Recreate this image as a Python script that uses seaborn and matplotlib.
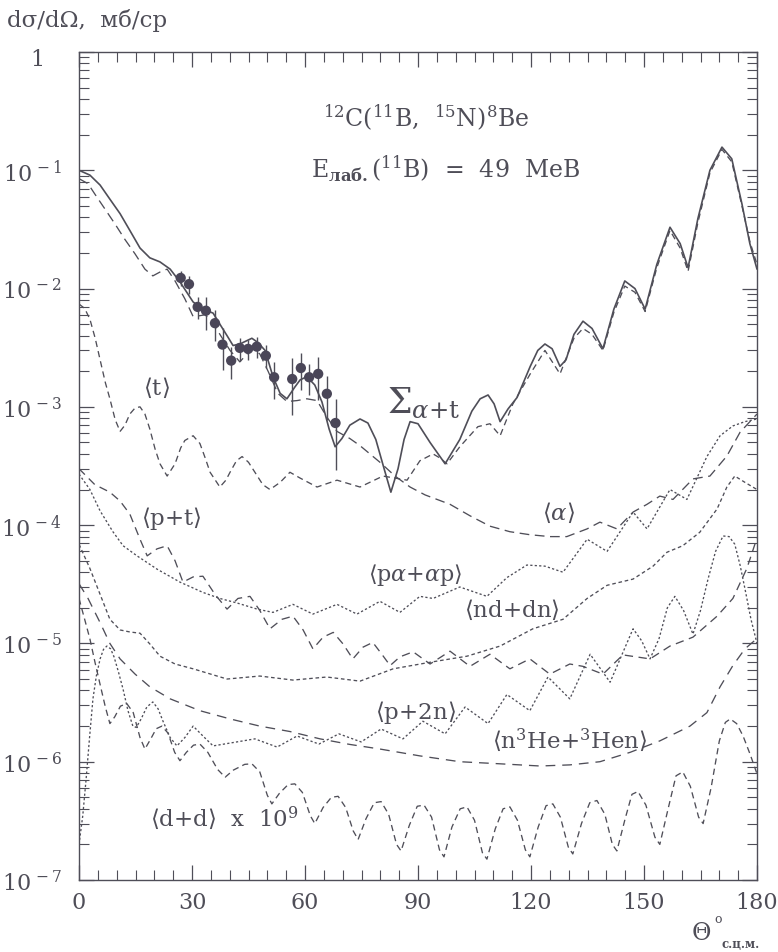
import numpy as np
import matplotlib
matplotlib.use("Agg")
import matplotlib.pyplot as plt
from matplotlib.ticker import LogLocator, MultipleLocator, FixedLocator, FixedFormatter, NullFormatter
import seaborn as sns

# ---- angular distributions, theta in degrees (c.m.), cross sections in mb/sr ----
sum_theta = [0, 2.9, 5.6, 8.2, 10.9, 13.5, 16.2, 18.8, 21.5, 24.2, 26.8, 30.3, 33.0, 35.6, 37.4,
             39.3, 40.9, 42.7, 45.9, 47.5, 49.4, 51.5, 53.4, 55.2, 57.3, 58.7, 60.5, 62.6, 64.5, 66.4,
             68.0, 69.8, 71.9, 74.6, 76.7, 78.8, 81.0, 82.8, 84.7, 86.3, 87.9, 90.0, 93.2, 97.2, 101.1,
             104.3, 106.5, 108.6, 110.2, 111.8, 113.9, 116.3, 119.8, 121.8, 123.7, 125.6, 127.7, 129.3,
             131.4, 133.8, 136.2, 139.1, 142.0, 144.9, 147.6, 150.3, 153.4, 156.9, 159.6, 161.7, 164.3,
             167.5, 170.7, 173.3, 176.0, 178.1, 180]
sum_xs = [0.1, 0.091, 0.075, 0.057, 0.043, 0.031, 0.022, 0.0182, 0.0168, 0.0146, 0.0114, 7.7e-3,
          6.7e-3, 6.2e-3, 5.0e-3, 4.0e-3, 3.3e-3, 3.4e-3, 3.8e-3, 3.5e-3, 3.0e-3, 1.8e-3, 1.3e-3,
          1.17e-3, 1.47e-3, 1.69e-3, 1.8e-3, 1.53e-3, 1.1e-3, 6.5e-4, 4.6e-4, 5.4e-4, 7.0e-4, 7.9e-4,
          7.3e-4, 5.3e-4, 3.0e-4, 1.9e-4, 3.0e-4, 5.3e-4, 7.5e-4, 7.2e-4, 5.0e-4, 3.3e-4, 5.3e-4,
          9.2e-4, 1.17e-3, 1.26e-3, 1.06e-3, 7.5e-4, 9.6e-4, 1.2e-3, 2.2e-3, 3.0e-3, 3.4e-3, 3.1e-3,
          2.2e-3, 2.5e-3, 4.1e-3, 5.3e-3, 4.6e-3, 3.1e-3, 6.7e-3, 1.16e-2, 1.0e-2, 6.7e-3, 1.6e-2,
          3.3e-2, 2.4e-2, 1.5e-2, 3.9e-2, 0.10, 0.157, 0.125, 0.052, 0.024, 0.0146]

alpha_theta = [0, 2.4, 4.2, 6.9, 9.6, 12.2, 14.9, 17.5, 19.6, 21.5, 23.4, 25.5, 28.1, 30.3, 32.1,
               33.4, 35.6, 37.4, 40.1, 42.7, 44.6, 46.2, 48.0, 50.2, 52.8, 55.2, 57.9, 60.5, 63.2,
               65.8, 68.5, 71.9, 74.6, 79.9, 83.9, 87.9, 91.9, 98.5, 103.8, 109.1, 114.4, 119.7,
               125.0, 129.5, 134.9, 138.3, 142.8, 147.1, 150.8, 154.2, 157.7, 163.0, 167.5, 172.0,
               175.5, 180]
alpha_xs = [0.085, 0.077, 0.063, 0.047, 0.035, 0.026, 0.0196, 0.0146, 0.0128, 0.0138, 0.0146,
            0.0116, 8.2e-3, 5.8e-3, 5.9e-3, 6.0e-3, 5.3e-3, 4.1e-3, 3.0e-3, 2.4e-3, 2.8e-3, 3.1e-3,
            2.8e-3, 2.0e-3, 1.3e-3, 1.11e-3, 1.13e-3, 1.17e-3, 1.13e-3, 8.2e-4, 6.2e-4, 5.4e-4,
            4.7e-4, 3.4e-4, 2.6e-4, 2.1e-4, 1.8e-4, 1.5e-4, 1.2e-4, 9.8e-5, 8.8e-5, 8.3e-5, 8.0e-5,
            8.0e-5, 9.3e-5, 1.06e-4, 9.3e-5, 1.29e-4, 1.5e-4, 1.76e-4, 1.65e-4, 2.46e-4, 2.6e-4,
            3.84e-4, 6.1e-4, 8.7e-4]

t_theta = [0, 1.5, 2.9, 4.3, 5.6, 7.0, 8.2, 9.6, 10.9, 12.2, 13.5, 14.9, 16.2, 17.5, 18.8, 20.2,
           21.5, 23.4, 25.5, 27.0, 28.1, 30.3, 32.1, 33.5, 34.8, 37.4, 39.0, 40.1, 41.8, 43.3, 45.0,
           46.7, 48.8, 50.7, 53.4, 56.0, 58.7, 63.2, 68.5, 74.6, 80.7, 87.1, 90.5, 94.0, 95.8, 97.7,
           101.1, 105.9, 109.1, 111.8, 115.2, 119.8, 123.7, 127.7, 131.4, 133.8, 136.2, 139.1,
           142.0, 144.9, 147.6, 150.3, 153.4, 156.9, 159.6, 161.7, 164.3, 167.5, 170.7, 173.3,
           176.0, 178.1, 180]
t_xs = [7.4e-3, 6.8e-3, 5.5e-3, 3.8e-3, 2.5e-3, 1.6e-3, 1.17e-3, 7.8e-4, 6.2e-4, 7.0e-4, 8.7e-4,
        9.8e-4, 1.0e-3, 8.7e-4, 6.5e-4, 4.4e-4, 3.3e-4, 2.6e-4, 3.3e-4, 4.5e-4, 5.2e-4, 5.7e-4,
        4.9e-4, 3.7e-4, 2.8e-4, 2.1e-4, 2.4e-4, 2.8e-4, 3.5e-4, 3.8e-4, 3.4e-4, 2.8e-4, 2.2e-4,
        2.0e-4, 2.3e-4, 2.8e-4, 2.5e-4, 2.1e-4, 2.4e-4, 2.1e-4, 2.6e-4, 2.4e-4, 3.5e-4, 4.0e-4,
        3.7e-4, 3.3e-4, 4.6e-4, 6.8e-4, 7.2e-4, 5.7e-4, 1.06e-3, 1.9e-3, 3.0e-3, 1.9e-3, 3.8e-3,
        4.6e-3, 4.1e-3, 3.0e-3, 6.3e-3, 1.05e-2, 9.3e-3, 6.4e-3, 1.5e-2, 3.1e-2, 2.2e-2, 1.4e-2,
        3.6e-2, 0.095, 0.15, 0.118, 0.05, 0.025, 0.016]

pt_theta = [0, 4.2, 8.2, 10.9, 13.5, 16.2, 18.1, 20.7, 23.4, 25.5, 27.6, 30.3, 32.9, 36.1, 39.3,
            42.2, 45.4, 48.0, 50.7, 53.9, 56.8, 59.5, 62.1, 64.8, 67.5, 70.1, 72.7, 75.4, 78.0, 80.4,
            82.6, 85.2, 88.7, 93.2, 98.5, 103.8, 109.1, 114.4, 119.7, 125.0, 130.3, 133.8, 139.1,
            144.4, 151.6, 156.9, 163.0, 169.4, 173.6, 177.3, 180]
pt_xs = [3.0e-4, 2.2e-4, 1.9e-4, 1.6e-4, 1.24e-4, 7.6e-5, 5.5e-5, 6.3e-5, 6.7e-5, 5.0e-5, 3.3e-5,
         3.65e-5, 3.7e-5, 2.6e-5, 1.95e-5, 2.4e-5, 2.5e-5, 1.9e-5, 1.33e-5, 1.6e-5, 1.7e-5, 1.3e-5,
         9.0e-6, 1.13e-5, 1.24e-5, 9.9e-6, 7.4e-6, 9.3e-6, 1.02e-5, 8.1e-6, 6.5e-6, 7.7e-6, 8.5e-6,
         6.7e-6, 8.6e-6, 6.4e-6, 8.1e-6, 6.1e-6, 7.4e-6, 5.5e-6, 6.7e-6, 6.4e-6, 5.5e-6, 8.0e-6,
         7.4e-6, 9.5e-6, 1.13e-5, 1.7e-5, 2.4e-5, 4.3e-5, 7.8e-5]

pa_theta = [0, 2.9, 5.6, 9.0, 11.7, 15.4, 20.7, 26.8, 32.9, 37.4, 41.9, 47.3, 51.5, 56.8, 62.1,
            68.5, 73.8, 79.9, 85.2, 90.5, 94.0, 101.1, 108.3, 113.6, 118.9, 123.7, 128.5, 134.9,
            140.2, 147.1, 150.8, 156.9, 161.4, 166.7, 170.2, 173.6, 176.8, 180]
pa_xs = [2.7e-4, 2.0e-4, 1.32e-4, 8.8e-5, 6.7e-5, 5.5e-5, 4.25e-5, 3.3e-5, 2.7e-5, 2.4e-5, 2.2e-5,
         1.95e-5, 1.83e-5, 2.14e-5, 1.77e-5, 2.14e-5, 1.77e-5, 2.27e-5, 1.83e-5, 2.5e-5, 2.4e-5,
         3.0e-5, 2.5e-5, 3.6e-5, 4.6e-5, 4.5e-5, 4.0e-5, 7.6e-5, 6.0e-5, 1.29e-4, 9.3e-5, 2.0e-4,
         1.65e-4, 3.8e-4, 5.7e-4, 6.9e-4, 7.5e-4, 7.9e-4]

nd_theta = [0, 2.9, 5.6, 8.2, 10.9, 13.5, 16.2, 18.8, 21.5, 25.5, 30.3, 39.3, 48.0, 56.8, 65.8,
            74.6, 83.4, 94.0, 103.0, 111.8, 120.5, 128.5, 134.9, 140.2, 147.1, 152.4, 156.1, 160.3,
            164.8, 169.4, 172.0, 174.1, 176.8, 180]
nd_xs = [6.9e-5, 4.3e-5, 2.6e-5, 1.6e-5, 1.3e-5, 1.25e-5, 1.22e-5, 9.9e-6, 7.8e-6, 6.7e-6, 6.1e-6,
         5.0e-6, 5.3e-6, 4.9e-6, 5.2e-6, 4.8e-6, 6.1e-6, 7.0e-6, 7.8e-6, 9.5e-6, 1.33e-5, 1.6e-5,
         2.4e-5, 3.1e-5, 3.5e-5, 4.5e-5, 5.9e-5, 6.7e-5, 8.7e-5, 1.37e-4, 2.1e-4, 2.6e-4, 2.3e-4,
         2.0e-4]

p2n_theta = [0, 1.0, 1.9, 2.8, 3.7, 4.6, 5.6, 6.5, 7.4, 8.4, 9.3, 10.5, 11.7, 13.0, 14.3, 15.2,
             16.5, 18.0, 19.6, 21.0, 22.3, 24.2, 26.0, 28.1, 30.3, 32.9, 35.6, 46.7, 52.6, 57.9,
             63.7, 69.0, 74.9, 80.2, 86.0, 91.3, 97.2, 102.5, 108.6, 113.6, 119.7, 124.5, 130.3,
             135.7, 141.0, 147.1, 149.4, 151.6, 154.0, 156.2, 158.2, 160.5, 163.0, 165.0, 167.0,
             169.0, 171.0, 172.6, 174.1, 175.5, 176.8, 178.4, 180]
p2n_xs = [2.0e-7, 3.5e-7, 7.2e-7, 1.6e-6, 3.4e-6, 5.3e-6, 7.4e-6, 8.9e-6, 9.5e-6, 9.0e-6, 7.7e-6,
          5.7e-6, 4.1e-6, 2.7e-6, 2.0e-6, 1.95e-6, 2.3e-6, 2.9e-6, 3.2e-6, 2.8e-6, 2.2e-6, 1.6e-6,
          1.36e-6, 1.6e-6, 2.0e-6, 1.65e-6, 1.36e-6, 1.56e-6, 1.33e-6, 1.65e-6, 1.41e-6, 1.72e-6,
          1.47e-6, 1.89e-6, 1.56e-6, 2.2e-6, 1.72e-6, 2.9e-6, 2.1e-6, 3.7e-6, 2.7e-6, 5.2e-6,
          3.4e-6, 8.1e-6, 4.7e-6, 1.33e-5, 1.05e-5, 7.4e-6, 1.1e-5, 2.0e-5, 2.5e-5, 1.9e-5, 1.2e-5,
          1.9e-5, 3.5e-5, 6.0e-5, 8.1e-5, 8.0e-5, 6.9e-5, 4.6e-5, 2.9e-5, 1.6e-5, 1.0e-5]

he3_theta = [0, 2.4, 5.6, 8.2, 10.9, 14.9, 18.8, 24.2, 32.1, 40.1, 48.0, 56.0, 64.0, 71.9, 79.9,
             90.5, 101.1, 111.8, 122.4, 130.3, 138.3, 146.3, 154.2, 162.2, 166.7, 170.2, 173.6,
             176.8, 180]
he3_xs = [3.2e-5, 2.4e-5, 1.5e-5, 1.0e-5, 7.4e-6, 5.5e-6, 4.3e-6, 3.4e-6, 2.7e-6, 2.3e-6, 2.0e-6,
          1.8e-6, 1.56e-6, 1.4e-6, 1.28e-6, 1.12e-6, 1.0e-6, 9.6e-7, 9.2e-7, 9.4e-7, 1.0e-6,
          1.2e-6, 1.5e-6, 2.0e-6, 2.6e-6, 4.3e-6, 6.5e-6, 9.0e-6, 1.1e-5]

dd_theta = [0, 1.5, 2.9, 4.3, 5.6, 7.0, 8.2, 9.5, 11.0, 12.7, 14.4, 16.2, 17.5, 19.0, 20.5, 22.0,
            23.6, 25.4, 26.8, 28.5, 30.4, 32.1, 34.2, 36.8, 38.8, 41.0, 44.0, 45.9, 48.0, 50.0,
            51.2, 53.2, 55.5, 57.3, 59.3, 61.4, 62.6, 64.8, 67.0, 68.8, 70.8, 72.8, 74.1, 76.2,
            78.4, 80.2, 82.2, 84.3, 85.5, 87.7, 89.8, 91.6, 93.6, 95.7, 96.9, 99.0, 101.2, 103.0,
            105.0, 107.1, 108.3, 110.5, 112.6, 114.4, 116.4, 118.5, 119.7, 121.9, 124.0, 125.8,
            127.8, 129.9, 131.1, 133.4, 135.6, 137.5, 139.6, 141.6, 142.8, 145.0, 146.8, 148.4,
            150.5, 152.9, 154.2, 156.4, 158.5, 160.3, 162.3, 164.5, 165.7, 167.8, 170.0, 171.6,
            172.9, 174.6, 176.3, 178.2, 180]
dd_xs = [2.4e-5, 1.6e-5, 1.09e-5, 6.8e-6, 4.5e-6, 2.9e-6, 2.1e-6, 2.4e-6, 2.95e-6, 3.1e-6, 2.6e-6,
         1.6e-6, 1.28e-6, 1.55e-6, 1.9e-6, 2.0e-6, 1.75e-6, 1.2e-6, 1.02e-6, 1.2e-6, 1.38e-6,
         1.41e-6, 1.2e-6, 8.6e-7, 7.4e-7, 8.5e-7, 9.5e-7, 9.6e-7, 8.2e-7, 5.2e-7, 4.4e-7, 5.4e-7,
         6.4e-7, 6.5e-7, 5.5e-7, 3.5e-7, 3.0e-7, 4.1e-7, 5.0e-7, 5.1e-7, 4.1e-7, 2.6e-7, 2.2e-7,
         3.3e-7, 4.5e-7, 4.6e-7, 3.6e-7, 2.0e-7, 1.76e-7, 2.9e-7, 4.2e-7, 4.3e-7, 3.4e-7, 1.8e-7,
         1.57e-7, 2.8e-7, 4.0e-7, 4.15e-7, 3.2e-7, 1.7e-7, 1.5e-7, 2.7e-7, 4.0e-7, 4.15e-7, 3.2e-7,
         1.8e-7, 1.57e-7, 2.8e-7, 4.25e-7, 4.4e-7, 3.4e-7, 1.9e-7, 1.66e-7, 3.0e-7, 4.5e-7, 4.7e-7,
         3.6e-7, 2.0e-7, 1.76e-7, 3.3e-7, 5.3e-7, 5.6e-7, 4.3e-7, 2.3e-7, 2.0e-7, 4.0e-7, 7.6e-7,
         8.2e-7, 6.2e-7, 3.4e-7, 3.0e-7, 6.0e-7, 1.5e-6, 2.15e-6, 2.3e-6, 2.1e-6, 1.65e-6, 1.15e-6,
         7.9e-7]

# measured points with errors
exp_theta = [27.0, 29.2, 31.5, 33.7, 36.1, 38.1, 40.4, 42.7, 44.9, 47.2, 49.6, 51.8, 56.6, 58.9,
             61.1, 63.5, 65.8, 68.1]
exp_xs = [1.23e-2, 1.09e-2, 7.0e-3, 6.5e-3, 5.1e-3, 3.36e-3, 2.46e-3, 3.15e-3, 3.09e-3, 3.23e-3,
          2.71e-3, 1.78e-3, 1.72e-3, 2.13e-3, 1.78e-3, 1.90e-3, 1.29e-3, 7.3e-4]
exp_err = [1.8e-3, 1.9e-3, 1.5e-3, 2.0e-3, 1.5e-3, 1.3e-3, 7.4e-4, 6.9e-4, 6.2e-4, 6.5e-4, 6.0e-4,
           6.2e-4, 8.6e-4, 7.5e-4, 5.3e-4, 7.6e-4, 5.2e-4, 4.4e-4]

y_tick_values = [1e-7, 1e-6, 1e-5, 1e-4, 1e-3, 1e-2, 1e-1, 1]
y_tick_labels = [r"$10^{\,-7}$", r"$10^{\,-6}$", r"$10^{\,-5}$", r"$10^{\,-4}$",
                 r"$10^{\,-3}$", r"$10^{\,-2}$", r"$10^{\,-1}$", ""]
x_tick_values = [0, 30, 60, 90, 120, 150, 180]

INK = "#4f4e58"

sns.set_theme(style="ticks")
plt.rcParams["font.family"] = ["DejaVu Serif"]
plt.rcParams["mathtext.fontset"] = "dejavuserif"
plt.rcParams["lines.scale_dashes"] = False

fig = plt.figure(figsize=(7.78, 9.53), dpi=100)
ax = fig.add_axes([79 / 778, 1 - 881 / 953, 678 / 778, 828 / 953])

curves = [
    (sum_theta, sum_xs, "-", 1.2),
    (alpha_theta, alpha_xs, (0, (7, 4)), 0.95),
    (t_theta, t_xs, (0, (4.5, 3)), 0.95),
    (pt_theta, pt_xs, (0, (6, 4)), 0.95),
    (pa_theta, pa_xs, (0, (1.6, 1.6)), 0.95),
    (nd_theta, nd_xs, (0, (2.6, 2)), 0.95),
    (p2n_theta, p2n_xs, (0, (1.6, 1.6)), 0.95),
    (he3_theta, he3_xs, (0, (7, 5)), 0.95),
    (dd_theta, dd_xs, (0, (4.5, 3)), 0.95),
]
for th, xs, ls, lw in curves:
    sns.lineplot(x=th, y=xs, ax=ax, color=INK, linewidth=lw, linestyle=ls,
                 estimator=None, sort=False, legend=False)

ax.errorbar(exp_theta, exp_xs, yerr=exp_err, fmt="none", ecolor=INK, elinewidth=1.0, capsize=0)
sns.scatterplot(x=exp_theta, y=exp_xs, ax=ax, s=55, color="#4a4658", edgecolor="none",
                legend=False, zorder=5)

ax.set_yscale("log")
ax.set_xlim(0, 180)
ax.set_ylim(1e-7, 1)

ax.xaxis.set_major_locator(FixedLocator(x_tick_values))
ax.xaxis.set_minor_locator(MultipleLocator(5))
ax.set_xticklabels([str(v) for v in x_tick_values])
ax.yaxis.set_major_locator(FixedLocator(y_tick_values))
ax.yaxis.set_major_formatter(FixedFormatter(y_tick_labels))
ax.yaxis.set_minor_locator(LogLocator(base=10, subs=np.arange(2, 10), numticks=30))
ax.yaxis.set_minor_formatter(NullFormatter())

ax.tick_params(which="major", direction="in", length=11, width=0.9, top=True, right=True,
               color=INK, labelcolor=INK, labelsize=16)
ax.tick_params(which="minor", direction="in", length=7, width=0.8, top=True, right=True, color=INK)
ax.tick_params(axis="x", pad=8)
ax.tick_params(axis="y", pad=12)
for sp in ax.spines.values():
    sp.set_color(INK)
    sp.set_linewidth(1.0)
ax.set_xlabel("")
ax.set_ylabel("")

# the top decade is labelled with a plain "1", set in line with the "10" of the others
fig.text(37 / 778, 1 - 60 / 953, "1", fontsize=16, color=INK, ha="center", va="center")

# axis titles
fig.text(7 / 778, 1 - 20 / 953, "dσ/dΩ,  мб/ср", fontsize=16.5, color=INK, ha="left", va="center")
fig.text(701 / 778, 1 - 934 / 953, "Θ", fontsize=17, color=INK, ha="center", va="center")
fig.text(718 / 778, 1 - 920 / 953, "o", fontsize=9, color=INK, ha="center", va="center")
fig.text(741 / 778, 1 - 945 / 953, "с.ц.м.", fontsize=8.5, color=INK, ha="center", va="center",
         fontweight="bold")

# reaction and beam energy
ax.text(0.512, 0.9106, r"$^{12}$C($^{11}$B,  $^{15}$N)$^{8}$Be", transform=ax.transAxes,
        fontsize=17, color=INK, ha="center", va="baseline")
ax.text(0.541, 0.850, r"E$_{\mathbf{лаб.}}$($^{11}$B)  =  49  МеВ", transform=ax.transAxes,
        fontsize=17, color=INK, ha="center", va="baseline")

# curve labels
lab = dict(transform=ax.transAxes, color=INK, ha="center", va="center")
ax.text(0.114, 0.595, r"$\langle\mathrm{t}\rangle$", fontsize=16.5, **lab)
ax.text(0.137, 0.438, r"$\langle\mathrm{p{+}t}\rangle$", fontsize=16.5, **lab)
ax.text(0.707, 0.444, r"$\langle\alpha\rangle$", fontsize=16.5, **lab)
ax.text(0.496, 0.370, r"$\langle\mathrm{p}\alpha\mathrm{{+}}\alpha\mathrm{p}\rangle$", fontsize=16, **lab)
ax.text(0.639, 0.327, r"$\langle\mathrm{nd{+}dn}\rangle$", fontsize=16.5, **lab)
ax.text(0.496, 0.204, r"$\langle\mathrm{p{+}2n}\rangle$", fontsize=16.5, **lab)
ax.text(0.724, 0.170, r"$\langle\mathrm{n^{3}He{+}^{3}Hen}\rangle$", fontsize=16.5, **lab)
ax.text(0.105, 0.076, r"$\langle\mathrm{d{+}d}\rangle$  x  $10^{9}$", fontsize=16.5,
        transform=ax.transAxes, color=INK, ha="left", va="center")
ax.text(0.508, 0.577, r"$\Sigma_{\alpha\mathrm{{+}t}}$", fontsize=25, **lab)

fig.savefig("out.png", dpi=100, facecolor="white")
